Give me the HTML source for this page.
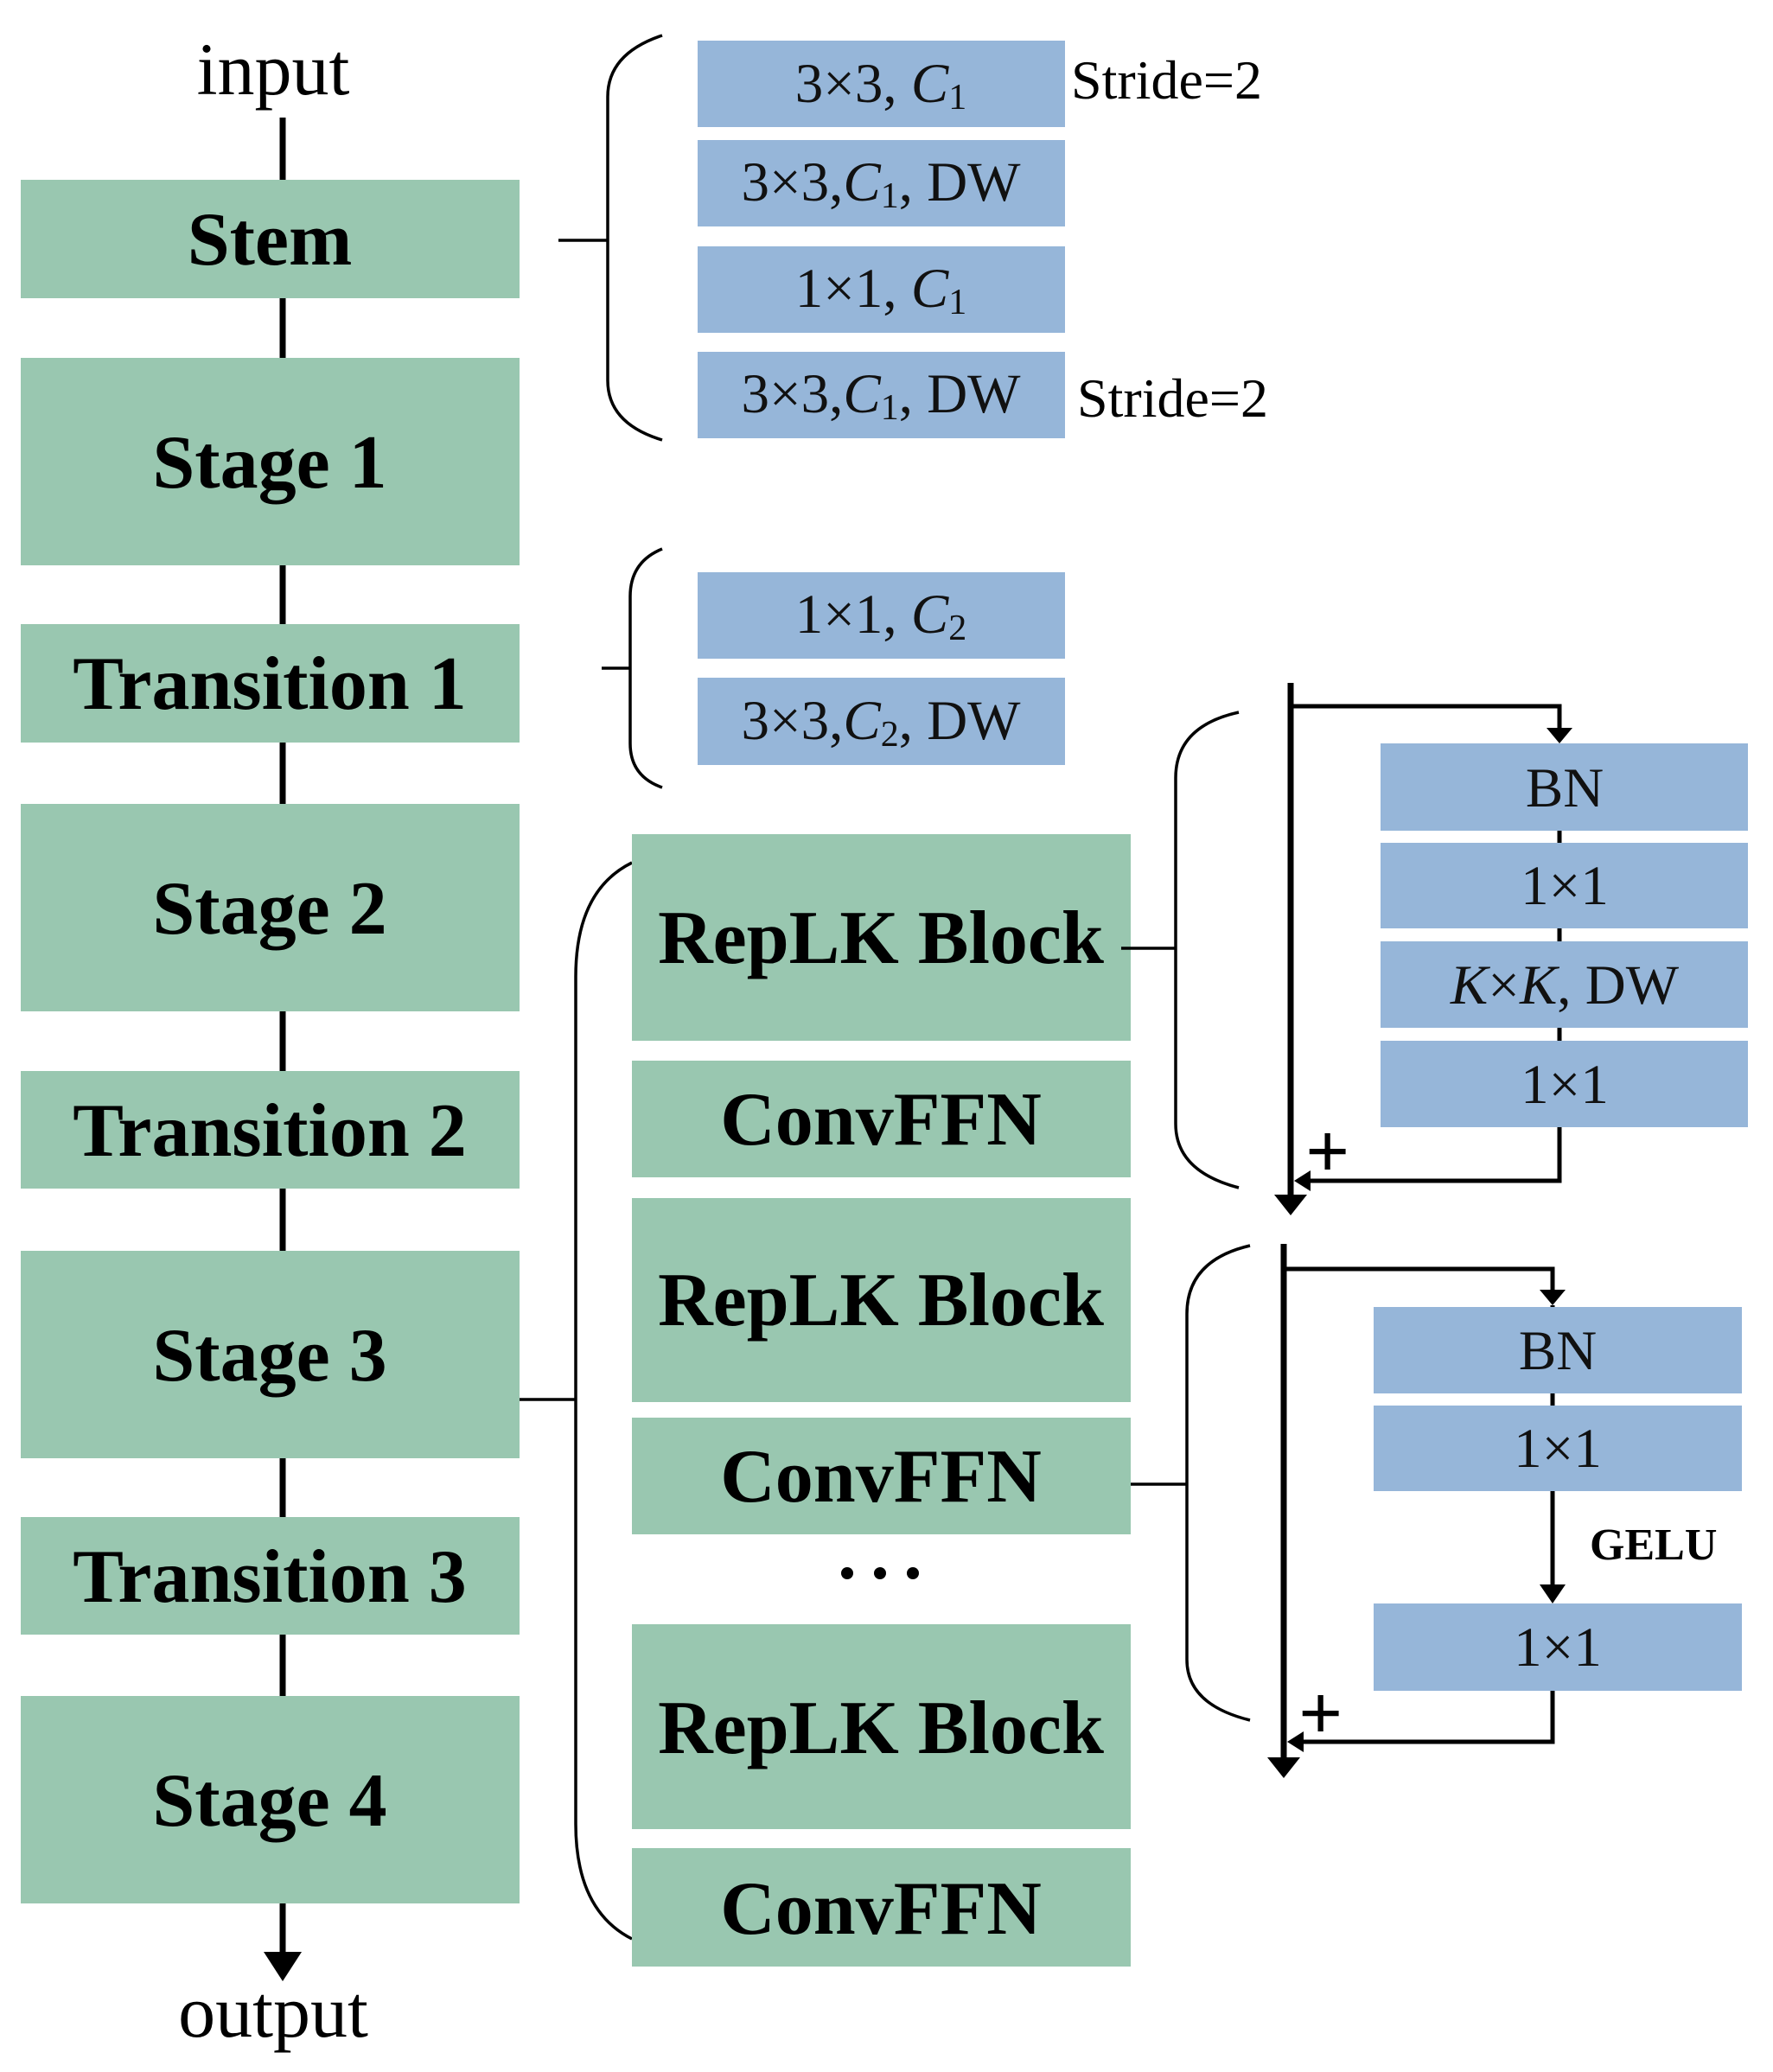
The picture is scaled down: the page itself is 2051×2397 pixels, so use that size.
<!DOCTYPE html>
<html><head><meta charset="utf-8"><style>
html,body{margin:0;padding:0;background:#fff;}
svg{display:block;}
.g{fill:#99c7b0;}
.b{fill:#96b6d9;}
.gt{font-family:"Liberation Serif",serif;font-weight:bold;font-size:88px;fill:#000;text-anchor:middle;}
.bt{font-family:"Liberation Serif",serif;font-size:65px;fill:#111;text-anchor:middle;}
.pt{font-family:"Liberation Serif",serif;font-size:64px;fill:#000;}
.pl{font-family:"Liberation Serif",serif;font-size:90px;font-weight:bold;fill:#000;}
.io{font-family:"Liberation Serif",serif;font-size:86px;fill:#000;text-anchor:middle;}
</style></head><body>
<svg width="2051" height="2397" viewBox="0 0 2051 2397" xmlns="http://www.w3.org/2000/svg">
<line x1="327" y1="136" x2="327" y2="2262" stroke="#000" stroke-width="7"/>
<polygon points="305,2258 349,2258 327,2292" fill="#000"/>
<rect class="g" x="24" y="208" width="577" height="137"/>
<rect class="g" x="24" y="414" width="577" height="240"/>
<rect class="g" x="24" y="722" width="577" height="137"/>
<rect class="g" x="24" y="930" width="577" height="240"/>
<rect class="g" x="24" y="1239" width="577" height="136"/>
<rect class="g" x="24" y="1447" width="577" height="240"/>
<rect class="g" x="24" y="1755" width="577" height="136"/>
<rect class="g" x="24" y="1962" width="577" height="240"/>
<text class="gt" x="312" y="306">Stem</text>
<text class="gt" x="312" y="564">Stage 1</text>
<text class="gt" x="312" y="820">Transition 1</text>
<text class="gt" x="312" y="1080">Stage 2</text>
<text class="gt" x="312" y="1337">Transition 2</text>
<text class="gt" x="312" y="1597">Stage 3</text>
<text class="gt" x="312" y="1853">Transition 3</text>
<text class="gt" x="312" y="2112">Stage 4</text>
<text class="io" x="316" y="109">input</text>
<text class="io" x="316" y="2356">output</text>

<path d="M766,41 Q703,62 703,112 L703,440 Q703,490 766,509" fill="none" stroke="#000" stroke-width="3.5"/>
<line x1="646" y1="278" x2="703" y2="278" stroke="#000" stroke-width="3.5"/>
<rect class="b" x="807" y="47" width="425" height="100"/>
<rect class="b" x="807" y="162" width="425" height="100"/>
<rect class="b" x="807" y="285" width="425" height="100"/>
<rect class="b" x="807" y="407" width="425" height="100"/>
<text class="bt" x="1019" y="118">3×3, <tspan font-style="italic">C</tspan><tspan font-size="42" dy="8">1</tspan></text>
<text class="bt" x="1019" y="232">3×3,<tspan font-style="italic">C</tspan><tspan font-size="42" dy="8">1</tspan><tspan dy="-8">, DW</tspan></text>
<text class="bt" x="1019" y="355">1×1, <tspan font-style="italic">C</tspan><tspan font-size="42" dy="8">1</tspan></text>
<text class="bt" x="1019" y="477">3×3,<tspan font-style="italic">C</tspan><tspan font-size="42" dy="8">1</tspan><tspan dy="-8">, DW</tspan></text>
<text class="pt" x="1239" y="114">Stride=2</text>
<text class="pt" x="1246" y="482">Stride=2</text>

<path d="M766,635 Q729,650 729,690 L729,860 Q729,898 766,911" fill="none" stroke="#000" stroke-width="3.5"/>
<line x1="696" y1="773" x2="729" y2="773" stroke="#000" stroke-width="3.5"/>
<rect class="b" x="807" y="662" width="425" height="100"/>
<rect class="b" x="807" y="784" width="425" height="101"/>
<text class="bt" x="1019" y="732">1×1, <tspan font-style="italic">C</tspan><tspan font-size="42" dy="8">2</tspan></text>
<text class="bt" x="1019" y="855">3×3,<tspan font-style="italic">C</tspan><tspan font-size="42" dy="8">2</tspan><tspan dy="-8">, DW</tspan></text>

<path d="M731,998 Q666,1030 666,1130 L666,2110 Q666,2210 731,2243" fill="none" stroke="#000" stroke-width="3.5"/>
<line x1="601" y1="1619" x2="666" y2="1619" stroke="#000" stroke-width="3.5"/>
<rect class="g" x="731" y="965" width="577" height="239"/>
<rect class="g" x="731" y="1227" width="577" height="135"/>
<rect class="g" x="731" y="1386" width="577" height="236"/>
<rect class="g" x="731" y="1640" width="577" height="135"/>
<rect class="g" x="731" y="1879" width="577" height="237"/>
<rect class="g" x="731" y="2138" width="577" height="137"/>
<text class="gt" x="1019" y="1114">RepLK Block</text>
<text class="gt" x="1019" y="1324">ConvFFN</text>
<text class="gt" x="1019" y="1533">RepLK Block</text>
<text class="gt" x="1019" y="1737">ConvFFN</text>
<circle cx="980" cy="1820" r="7"/><circle cx="1018" cy="1820" r="7"/><circle cx="1056" cy="1820" r="7"/>
<text class="gt" x="1019" y="2028">RepLK Block</text>
<text class="gt" x="1019" y="2237">ConvFFN</text>

<path d="M1433,824 Q1360,840 1360,900 L1360,1300 Q1360,1355 1433,1374" fill="none" stroke="#000" stroke-width="3.5"/>
<line x1="1297" y1="1097" x2="1360" y2="1097" stroke="#000" stroke-width="3.5"/>
<line x1="1493" y1="790" x2="1493" y2="1385" stroke="#000" stroke-width="7"/>
<polygon points="1474,1382 1512,1382 1493,1406" fill="#000"/>
<polyline points="1493,817 1804,817 1804,845" fill="none" stroke="#000" stroke-width="5"/>
<polygon points="1789,842 1819,842 1804,860" fill="#000"/>
<line x1="1804" y1="860" x2="1804" y2="1304" stroke="#000" stroke-width="5"/>
<polyline points="1804,1304 1804,1366 1510,1366" fill="none" stroke="#000" stroke-width="5"/>
<polygon points="1497,1366 1516,1354 1516,1378" fill="#000"/>
<rect class="b" x="1597" y="860" width="425" height="101"/>
<rect class="b" x="1597" y="975" width="425" height="99"/>
<rect class="b" x="1597" y="1089" width="425" height="100"/>
<rect class="b" x="1597" y="1204" width="425" height="100"/>
<text class="bt" x="1810" y="933">BN</text>
<text class="bt" x="1810" y="1046">1×1</text>
<text class="bt" x="1810" y="1161"><tspan font-style="italic">K</tspan>×<tspan font-style="italic">K</tspan>, DW</text>
<text class="bt" x="1810" y="1276">1×1</text>
<text class="pl" x="1510" y="1362">+</text>

<path d="M1446,1441 Q1373,1458 1373,1520 L1373,1920 Q1373,1972 1446,1990" fill="none" stroke="#000" stroke-width="3.5"/>
<line x1="1308" y1="1717" x2="1373" y2="1717" stroke="#000" stroke-width="3.5"/>
<line x1="1485" y1="1439" x2="1485" y2="2035" stroke="#000" stroke-width="7"/>
<polygon points="1466,2033 1504,2033 1485,2057" fill="#000"/>
<polyline points="1485,1468 1796,1468 1796,1495" fill="none" stroke="#000" stroke-width="5"/>
<polygon points="1781,1492 1811,1492 1796,1510" fill="#000"/>
<line x1="1796" y1="1510" x2="1796" y2="1835" stroke="#000" stroke-width="5"/>
<polygon points="1781,1833 1811,1833 1796,1855" fill="#000"/>
<polyline points="1796,1956 1796,2015 1502,2015" fill="none" stroke="#000" stroke-width="5"/>
<polygon points="1489,2015 1508,2003 1508,2027" fill="#000"/>
<rect class="b" x="1589" y="1512" width="426" height="100"/>
<rect class="b" x="1589" y="1626" width="426" height="99"/>
<rect class="b" x="1589" y="1855" width="426" height="101"/>
<text class="bt" x="1802" y="1584">BN</text>
<text class="bt" x="1802" y="1697">1×1</text>
<text class="bt" x="1802" y="1927">1×1</text>
<text x="1839" y="1804" font-family="Liberation Serif,serif" font-weight="bold" font-size="52" fill="#000">GELU</text>
<text class="pl" x="1502" y="2012">+</text>
</svg>
</body></html>
